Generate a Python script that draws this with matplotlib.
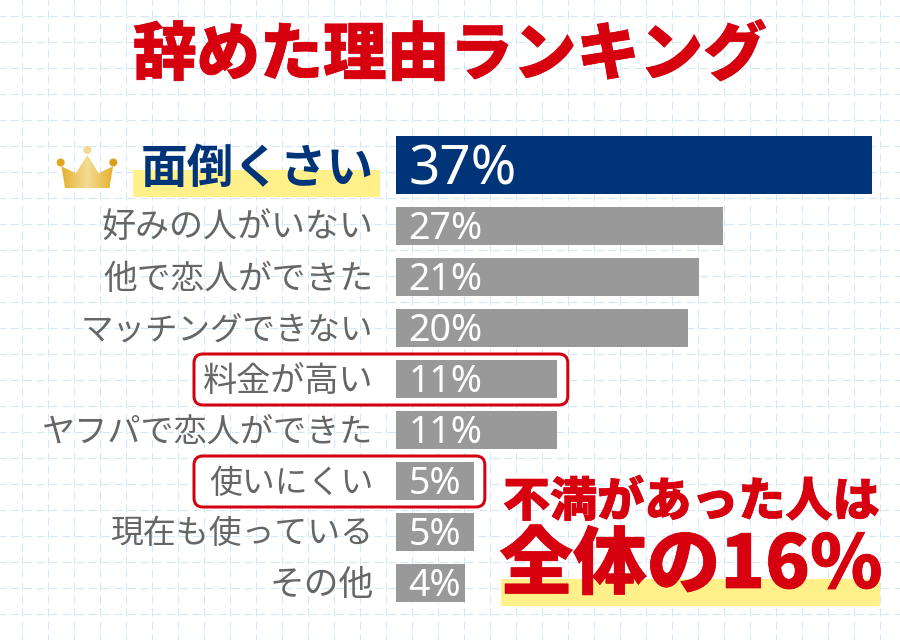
import numpy as np
import matplotlib
matplotlib.use("Agg")
import matplotlib.pyplot as plt
from matplotlib.colors import LinearSegmentedColormap
from matplotlib.patches import FancyBboxPatch, Polygon, Rectangle, Circle
import matplotlib.patheffects as pe

plt.rcParams['font.family'] = ['Noto Sans CJK JP', 'DejaVu Sans']
plt.rcParams['lines.scale_dashes'] = False

title = "辞めた理由ランキング"
categories = ["面倒くさい", "好みの人がいない", "他で恋人ができた", "マッチングできない", "料金が高い",
              "ヤフパで恋人ができた", "使いにくい", "現在も使っている", "その他"]
value_labels = ["37%", "27%", "21%", "20%", "11%", "11%", "5%", "5%", "4%"]
# Drawn bar lengths as they appear in the picture, on the scale where the top bar is 37
bar_lengths = [37, 25.4, 23.55, 22.7, 12.5, 12.5, 6.05, 6.05, 5.4]
highlighted = ["料金が高い", "使いにくい"]
note_line1 = "不満があった人は"
note_line2 = "全体の16%"

W, H = 900, 640
NAVY, GREY, RED, YELLOW, TEXT = "#003479", "#999999", "#d7000f", "#fff08a", "#666666"
GRID = "#d3e8f4"

fig = plt.figure(figsize=(W / 100, H / 100), dpi=100, facecolor="white")

def pixel_axes(z):
    a = fig.add_axes([0, 0, 1, 1], zorder=z)
    a.set_xlim(0, W)
    a.set_ylim(H, 0)
    a.axis("off")
    return a

bg = pixel_axes(0)
top = pixel_axes(2)
px = 0.72

# Grid paper
bg.vlines(np.arange(21.5, W, 26), 0, H, colors=GRID, lw=1.1 * px, linestyles=[(2, (8 * px, 5 * px))])
bg.hlines(np.arange(15.5, H, 26), 0, W, colors=GRID, lw=1.1 * px, linestyles=[(2, (8 * px, 5 * px))])

# Row centres
row_y = np.array([165] + [226 + 51 * i for i in range(len(categories) - 1)], dtype=float)
row_h = np.array([58] + [38] * (len(categories) - 1), dtype=float)

# Bars
ax = fig.add_axes([396 / W, (H - 606) / H, 476 / W, (606 - 130) / H], zorder=1)
ax.patch.set_alpha(0)
ax.set_xlim(0, 37)
ax.set_ylim(606, 130)
ax.axis("off")
colors = [NAVY] + [GREY] * (len(categories) - 1)
ax.barh(row_y, bar_lengths, height=row_h, color=colors, linewidth=0)

# Highlight boxes
for name in highlighted:
    i = categories.index(name)
    x1 = 396 + bar_lengths[i] * 476 / 37 + 11
    bg.add_patch(FancyBboxPatch((194 + 9, row_y[i] - 25.5 + 9 + 0.5), x1 - 194 - 18, 51 - 18,
                                boxstyle="round,pad=9,rounding_size=9", fc="white", ec="#d3000f",
                                lw=3.0 * px, zorder=3))

# Yellow markers
bg.add_patch(Rectangle((133, 170), 247, 27, fc=YELLOW, ec="none", zorder=3))
bg.add_patch(Rectangle((501, 579), 379, 27, fc=YELLOW, ec="none", zorder=3))

# Category labels
label_sizes = [33.6, 24.5, 24.3, 23.4, 24.6, 23.9, 23.7, 23.7, 25]
for i, (name, y, s) in enumerate(zip(categories, row_y, label_sizes)):
    color = NAVY if i == 0 else TEXT
    weight = "bold" if i == 0 else "normal"
    dy = 4 if i == 0 else 2.5
    top.text(373.5, y + dy, name, ha="right", va="center", fontsize=s, color=color, fontweight=weight)

# Value labels
for i, (lab, y) in enumerate(zip(value_labels, row_y)):
    size = 39.5 if i == 0 else 27
    dy = 5 if i == 0 else 3
    top.text(408.5, y + dy, lab, ha="left", va="center", fontsize=size, color="white",
             family=["Noto Sans", "DejaVu Sans"])

# Title and note
stroke = [pe.withStroke(linewidth=0.5, foreground=RED)]
top.text(450, 56, title, ha="center", va="center", fontsize=45.6, color=RED, fontweight="black",
         path_effects=stroke)
top.text(691.5, 502, note_line1, ha="center", va="center", fontsize=33.9, color=RED, fontweight="black",
         path_effects=stroke)
top.text(691, 566, note_line2, ha="center", va="center", fontsize=53, color=RED, fontweight="black",
         path_effects=stroke)

# Crown
cmap = LinearSegmentedColormap.from_list("gold", ["#e6b02e", "#f3dc96", "#e6b02e"])
crown_pts = [(61.5, 166.5), (65, 188), (109.5, 188), (113, 166.5), (98.5, 173), (87.3, 155), (76, 173)]
crown = Polygon(crown_pts, closed=True, fc="none", ec="none", transform=top.transData)
top.add_patch(crown)
img = top.imshow(np.linspace(0, 1, 64).reshape(1, -1), cmap=cmap, extent=(61, 113.5, 188, 155),
                 aspect="auto", zorder=4)
img.set_clip_path(crown)
for cx, cy, c in [(60.7, 162.5, "#e3a51a"), (87.3, 150, "#f1d98f"), (113.3, 162.5, "#d9a21a")]:
    top.add_patch(Circle((cx, cy), 4, fc=c, ec="none", zorder=5))
top.set_xlim(0, W)
top.set_ylim(H, 0)

fig.savefig("out.png", dpi=100, facecolor="white")
